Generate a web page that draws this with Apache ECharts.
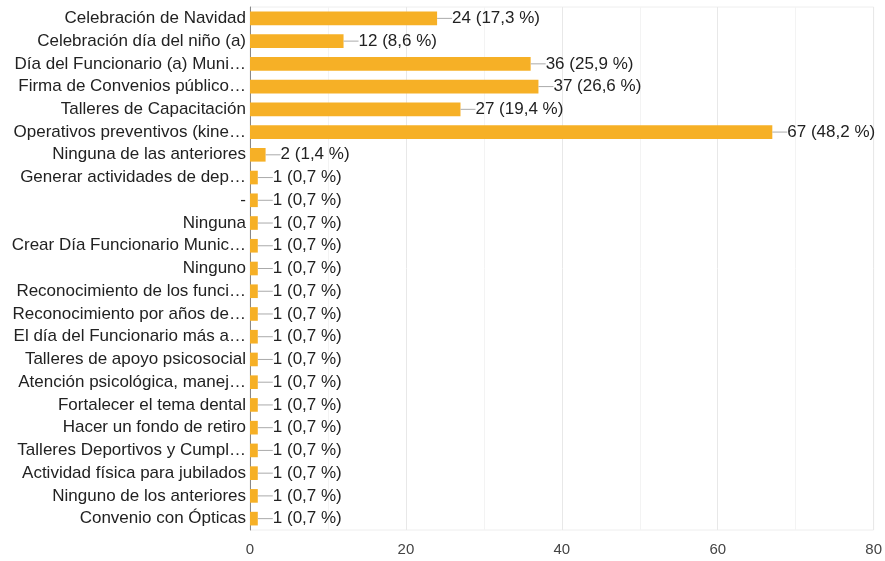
<!DOCTYPE html>
<html lang="es">
<head>
    <meta charset="UTF-8">
    <title>Respuestas</title>
    <script src="https://cdn.jsdelivr.net/npm/echarts@6/dist/echarts.min.js"></script>
    <style>
        html, body { margin: 0; padding: 0; background: #fff; }
        #main { width: 885px; height: 561px; }
    </style>
</head>
<body>
<div id="main"></div>
<script type="text/javascript">
    // opciones (de arriba hacia abajo)
    var categorias = [
        'Celebración de Navidad',
        'Celebración día del niño (a)',
        'Día del Funcionario (a) Muni…',
        'Firma de Convenios público…',
        'Talleres de Capacitación',
        'Operativos preventivos (kine…',
        'Ninguna de las anteriores',
        'Generar actividades de dep…',
        '-',
        'Ninguna',
        'Crear Día Funcionario Munic…',
        'Ninguno',
        'Reconocimiento de los funci…',
        'Reconocimiento por años de…',
        'El día del Funcionario más a…',
        'Talleres de apoyo psicosocial',
        'Atención psicológica, manej…',
        'Fortalecer el tema dental',
        'Hacer un fondo de retiro',
        'Talleres Deportivos y Cumpl…',
        'Actividad física para jubilados',
        'Ninguno de los anteriores',
        'Convenio con Ópticas'
    ];
    var respuestas = [24, 12, 36, 37, 27, 67, 2, 1, 1, 1, 1, 1, 1, 1, 1, 1, 1, 1, 1, 1, 1, 1, 1];
    var porcentajes = ['17,3', '8,6', '25,9', '26,6', '19,4', '48,2', '1,4',
        '0,7', '0,7', '0,7', '0,7', '0,7', '0,7', '0,7', '0,7', '0,7', '0,7', '0,7', '0,7', '0,7', '0,7', '0,7', '0,7'];
    var ticksX = [0, 20, 40, 60, 80];

    var myChart = echarts.init(document.getElementById('main'));

    var option = {
        animation: false,
        textStyle: { fontFamily: 'Liberation Sans, Arial, sans-serif' },
        grid: {
            left: 250, right: 9, top: 7, bottom: 31,
            show: true, borderColor: '#eeeeee', borderWidth: 1
        },
        xAxis: {
            type: 'value',
            min: ticksX[0],
            max: ticksX[ticksX.length - 1],
            interval: 20,
            axisLine: { show: false },
            axisTick: { show: false },
            axisLabel: { color: '#444', fontSize: 15, margin: 12 },
            splitLine: { show: true, lineStyle: { color: '#e8e8e8' } },
            minorTick: { show: false, splitNumber: 2 },
            minorSplitLine: { show: true, lineStyle: { color: '#f3f3f3' } }
        },
        yAxis: {
            type: 'category',
            inverse: true,
            data: categorias,
            axisLine: { show: true, onZero: false, lineStyle: { color: '#888', width: 1 } },
            axisTick: { show: false },
            axisLabel: { color: '#222', fontSize: 17, margin: 4 }
        },
        series: [{
            name: 'Respuestas',
            type: 'bar',
            data: respuestas,
            barCategoryGap: '40%',
            itemStyle: { color: '#f6b026' },
            label: {
                show: true,
                position: 'right',
                distance: 0,
                formatter: function (p) {
                    return '{l|}' + '{t|' + respuestas[p.dataIndex] + ' (' + porcentajes[p.dataIndex] + ' %)}';
                },
                rich: {
                    l: { width: 15, height: 1, backgroundColor: '#aaaaaa' },
                    t: { color: '#222', fontSize: 17, padding: [0, 0, 0, 0] }
                }
            }
        }]
    };

    myChart.setOption(option);
</script>
</body>
</html>
